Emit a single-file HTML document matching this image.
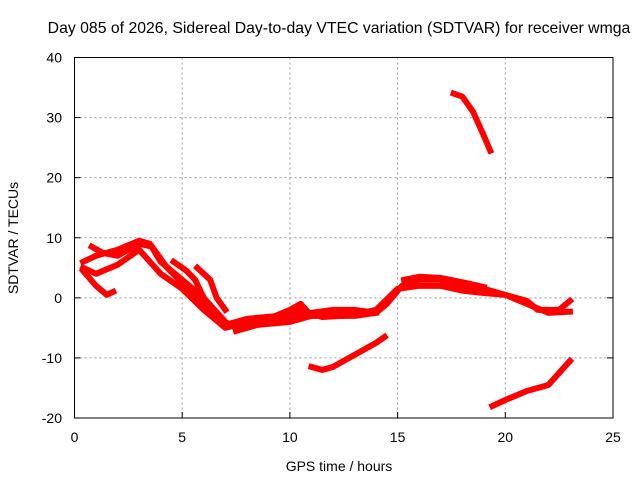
<!DOCTYPE html>
<html><head><meta charset="utf-8"><style>
body{margin:0;background:#fff}
svg{display:block;font-family:"Liberation Sans",sans-serif}
</style></head><body>
<svg id="chart" width="640" height="480">
<text x="339" y="33" text-anchor="middle" font-size="15.8">Day 085 of 2026, Sidereal Day-to-day VTEC variation (SDTVAR) for receiver wmga</text>
<text x="339" y="471" text-anchor="middle" font-size="14">GPS time / hours</text>
<text transform="translate(18,238) rotate(-90)" text-anchor="middle" font-size="14">SDTVAR / TECUs</text>
<g id="grid"></g><g id="ticks"></g><g id="series"></g>
<rect x="74.5" y="57.5" width="538.5" height="360.5" fill="none" stroke="#000" stroke-width="1"/>
</svg>
<script>
const xTicks=[0,5,10,15,20,25];
const yTicks=[-20,-10,0,10,20,30,40];
const seriesMain=[[0.4,6],[1,7],[2,8],[3,9.5],[3.5,9],[4,6],[5,3],[6,0],[7,-4],[7.5,-5],[8.5,-4],[10,-3],[11,-2.5],[12,-2],[13,-2],[14,-2.5],[14.5,-1],[15.2,2],[16,3],[17,3],[18,2],[19,1.5],[20,0.5],[21,-0.5],[21.5,-2],[22.5,-2],[23,-0.5]];
const seriesSecond=[[0.4,5],[1,4],[2,5.5],[3,8],[4,4],[5,1.5],[6,-2],[7,-5],[8,-4],[9,-3.5],[10,-2],[10.5,-1],[11,-3],[12,-3],[13,-3],[14,-2.5]];
const seriesThird=[[0.8,8.5],[1.3,7.5],[2,7],[3,9],[3.6,8.5],[4.3,5],[5,2.5],[6,-1.5],[7,-4.5],[8,-3.5],[9.5,-3],[10.5,-2],[11.5,-3.2],[12.5,-3]];
const seriesLowerBand=[[7.5,-5.5],[8.5,-4.5],[10,-4],[11,-3],[13,-2.8],[14,-2],[15,1.5],[16,2],[17,2],[18,1.2],[19,0.8],[20,0.5],[21,-1],[22,-2.5],[23,-2.3]];
const seriesUpperBand=[[15.3,3],[16,3.5],[17,3.3],[18,2.6],[19,1.8]];
const seriesStrand1=[[4.6,6],[5.2,4.5],[5.6,3],[6,0],[6.5,-3]];
const seriesStrand2=[[5.7,5],[6.3,3],[6.6,0],[7,-2]];
const seriesLeftDip=[[0.4,4.5],[1,2],[1.5,0.5],[1.8,1]];
const seriesLowArc=[[11,-11.5],[11.5,-12],[12,-11.5],[13,-9.5],[14,-7.5],[14.4,-6.5]];
const seriesBottom=[[19.4,-18],[20,-17],[21,-15.5],[22,-14.5],[22.5,-12.5],[23,-10.5]];
const seriesTop=[[17.6,34],[18,33.5],[18.5,31],[19,27],[19.3,24.5]];
const allSeries=[seriesMain,seriesSecond,seriesThird,seriesLowerBand,seriesUpperBand,seriesStrand1,seriesStrand2,seriesLeftDip,seriesLowArc,seriesBottom,seriesTop];
const NS="http://www.w3.org/2000/svg";
const X=v=>74.5+v*(538.5/25), Y=v=>418-(v+20)*(360.5/60);
const grid=document.getElementById('grid'),ticks=document.getElementById('ticks'),ser=document.getElementById('series');
function mk(tag,at,parent){const e=document.createElementNS(NS,tag);for(const k in at)e.setAttribute(k,at[k]);parent.appendChild(e);return e;}
xTicks.forEach(t=>{
 if(t>0&&t<25){const g=mk('line',{x1:X(t),x2:X(t),y1:57.5,y2:418,stroke:'#999','stroke-dasharray':'2,3'},grid);
 
 }
 const tk=mk('line',{x1:X(t),x2:X(t),y1:418,y2:412,stroke:'#000'},ticks);
 
 
 const l=mk('text',{x:X(t),y:442,'text-anchor':'middle','font-size':14},ticks);l.textContent=t;
 
 
});
yTicks.forEach(t=>{
 if(t>-20&&t<40){const g=mk('line',{x1:74.5,x2:613,y1:Y(t),y2:Y(t),stroke:'#999','stroke-dasharray':'2,3'},grid);
 
 }
 const tk=mk('line',{x1:74.5,x2:80.5,y1:Y(t),y2:Y(t),stroke:'#000'},ticks);
 
 
 const tk2=mk('line',{x1:607,x2:613,y1:Y(t),y2:Y(t),stroke:'#000'},ticks);
 
 
 const l=mk('text',{x:62,y:Y(t)+5,'text-anchor':'end','font-size':14},ticks);l.textContent=t;
 
 
});
allSeries.forEach(s=>{
 const p=mk('polyline',{points:s.map(d=>X(d[0])+','+Y(d[1])).join(' '),fill:'none',stroke:'#f00','stroke-width':6,'stroke-linejoin':'round','stroke-linecap':'square'},ser);
 
 
});
</script>
</body></html>
